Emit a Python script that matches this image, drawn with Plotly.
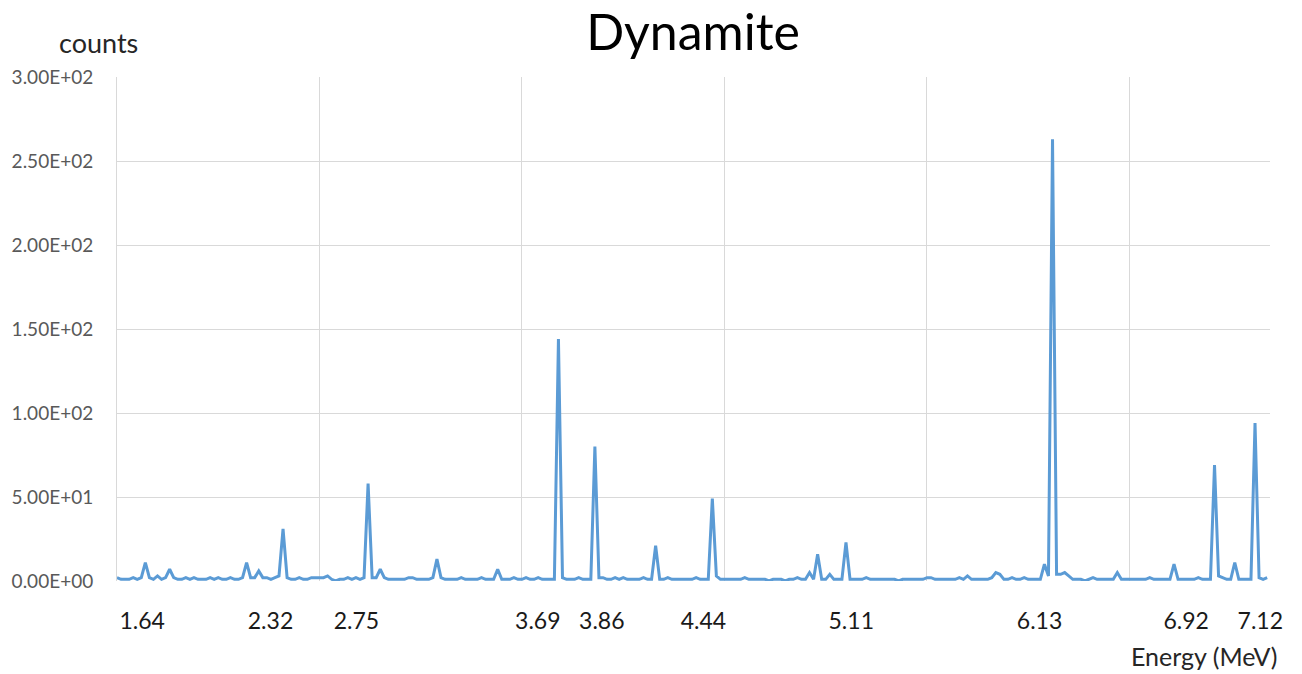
import plotly.graph_objects as go

# Gamma spectrum of dynamite: counts per channel bin (bins 0..284)
counts = [
    2, 1, 1, 1, 2, 1, 2, 11, 2, 1,
    3, 1, 2, 7, 2, 1, 1, 2, 1, 2,
    1, 1, 1, 2, 1, 2, 1, 1, 2, 1,
    1, 2, 11, 2, 2, 6, 2, 2, 1, 2,
    3, 31, 2, 1, 1, 2, 1, 1, 2, 2,
    2, 2, 3, 1, 0, 1, 1, 2, 1, 2,
    1, 2, 58, 2, 2, 7, 2, 1, 1, 1,
    1, 1, 2, 2, 1, 1, 1, 1, 2, 13,
    2, 1, 1, 1, 1, 2, 1, 1, 1, 1,
    2, 1, 1, 1, 7, 1, 1, 1, 2, 1,
    1, 2, 1, 1, 2, 1, 1, 1, 1, 144,
    2, 1, 1, 1, 2, 1, 1, 1, 80, 2,
    2, 1, 1, 2, 1, 2, 1, 1, 1, 1,
    2, 1, 1, 21, 1, 1, 2, 1, 1, 1,
    1, 1, 1, 2, 1, 1, 1, 49, 3, 1,
    1, 1, 1, 1, 1, 2, 1, 1, 1, 1,
    1, 0, 1, 1, 1, 0, 1, 1, 2, 1,
    1, 5, 1, 16, 1, 1, 4, 1, 1, 1,
    23, 1, 1, 1, 1, 2, 1, 1, 1, 1,
    1, 1, 1, 0, 1, 1, 1, 1, 1, 1,
    2, 2, 1, 1, 1, 1, 1, 1, 2, 1,
    3, 1, 1, 1, 1, 1, 2, 5, 4, 1,
    1, 2, 1, 1, 2, 1, 1, 1, 1, 10,
    3, 263, 4, 4, 5, 3, 1, 1, 1, 0,
    1, 2, 1, 1, 1, 1, 1, 5, 1, 1,
    1, 1, 1, 1, 1, 2, 1, 1, 1, 1,
    1, 10, 1, 1, 1, 1, 1, 2, 1, 1,
    1, 69, 3, 2, 1, 1, 11, 1, 1, 1,
    1, 94, 2, 1, 2,
]
channels = list(range(len(counts)))

# Energy labels (MeV) shown below the main lines, and the bin where each sits
energy_labels = ["1.64", "2.32", "2.75", "3.69", "3.86", "4.44", "5.11", "6.13", "6.92", "7.12"]
energy_label_bins = [6.2, 37.9, 59.1, 103.9, 119.7, 144.8, 181.3, 227.8, 264.0, 282.3]

# Count axis ticks in Excel-style scientific notation
count_ticks = [0, 50, 100, 150, 200, 250, 300]
count_tick_text = ["0.00E+00", "5.00E+01", "1.00E+02", "1.50E+02", "2.00E+02", "2.50E+02", "3.00E+02"]

FONT = "Lato"
GRID = "#d9d9d9"

fig = go.Figure(
    go.Scatter(
        x=channels,
        y=counts,
        mode="lines",
        line=dict(color="#5b9bd5", width=3),
        hoverinfo="skip",
    )
)

fig.update_layout(
    width=1302,
    height=674,
    margin=dict(l=114, r=32, t=77, b=93),
    paper_bgcolor="white",
    plot_bgcolor="white",
    showlegend=False,
    font=dict(family=FONT, color="#262626"),
    title=dict(
        text="Dynamite",
        font=dict(family=FONT, size=50, color="#000000"),
        x=693 / 1302,
        xanchor="center",
        y=1 - 32 / 674,
        yanchor="middle",
    ),
    xaxis=dict(
        range=[0, 284.7],
        tickmode="array",
        tickvals=energy_label_bins,
        ticktext=energy_labels,
        ticks="",
        showgrid=False,
        zeroline=False,
        showline=False,
        tickfont=dict(family=FONT, size=23, color="#1a1a1a"),
        ticklabelstandoff=24,
        minor=dict(tick0=0, dtick=50, showgrid=True, gridcolor=GRID, gridwidth=1, ticks=""),
    ),
    yaxis=dict(
        range=[0, 300],
        tickmode="array",
        tickvals=count_ticks,
        ticktext=count_tick_text,
        ticks="",
        showgrid=True,
        gridcolor=GRID,
        gridwidth=1,
        zeroline=False,
        showline=True,
        linecolor=GRID,
        linewidth=1,
        tickfont=dict(family=FONT, size=19, color="#595959"),
        ticklabelstandoff=19,
    ),
    annotations=[
        dict(
            text="counts",
            xref="paper", yref="paper",
            x=(95 - 114) / 1156, y=(581 - 42) / 504,
            xanchor="center", yanchor="middle",
            showarrow=False,
            font=dict(family=FONT, size=27, color="#262626"),
        ),
        dict(
            text="Energy (MeV)",
            xref="paper", yref="paper",
            x=(1204 - 114) / 1156, y=(581 - 656) / 504,
            xanchor="center", yanchor="middle",
            showarrow=False,
            font=dict(family=FONT, size=25, color="#262626"),
        ),
    ],
)

fig.write_html("out.html")
